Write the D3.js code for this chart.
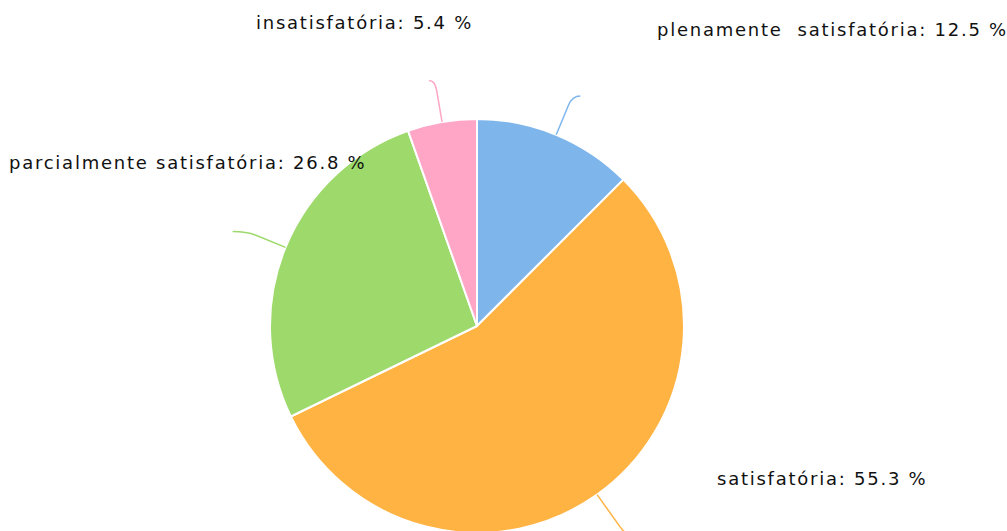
<!DOCTYPE html>
<html><head><meta charset="utf-8">
<script src="https://cdn.jsdelivr.net/npm/d3@7"></script>
<style>html,body{margin:0;padding:0;background:#fff;}svg{display:block;}
text{font-family:"DejaVu Sans",sans-serif;font-size:18px;letter-spacing:1.75px;fill:#111;white-space:pre;}</style>
</head><body>
<svg id="chart" width="1007" height="531"></svg>
<script>
const categories = ["plenamente  satisfatória", "satisfatória", "parcialmente satisfatória", "insatisfatória"];
const values = [12.5, 55.3, 26.8, 5.4];
const colors = ["#7eb6ec", "#ffb343", "#9dd96b", "#ffa6c7"];

const W = 1007, H = 531, cx = 477, cy = 326, R = 207;
const svg = d3.select("#chart");
const g = svg.append("g").attr("transform", `translate(${cx},${cy})`);

const data = categories.map((c, i) => ({name: c, value: values[i], color: colors[i]}));
const pie = d3.pie().value(d => d.value).sort(null);
const arcs = pie(data);
const arc = d3.arc().innerRadius(0).outerRadius(R);

g.selectAll("path.slice").data(arcs).join("path")
  .attr("class", "slice")
  .attr("d", arc)
  .attr("fill", d => d.data.color)
  .attr("stroke", "#fff").attr("stroke-width", 2).attr("stroke-linejoin", "round");

// leader lines
const tail = [8, 8, 14, 6];
const ext = [42, 50, 42, 42];
g.selectAll("path.leader").data(arcs).join("path")
  .attr("class", "leader")
  .attr("fill", "none")
  .attr("stroke", d => d.data.color)
  .attr("stroke-width", 1.5)
  .attr("d", (d, i) => {
    const a = (d.startAngle + d.endAngle) / 2;
    const p = r => [r * Math.sin(a), -r * Math.cos(a)];
    const p1 = p(R), p2 = p(R + ext[i]);
    const dir = Math.sin(a) >= 0 ? 1 : -1;
    const p3 = [p2[0] + dir * tail[i], p2[1]];
    const path = d3.path();
    path.moveTo(p1[0], p1[1]);
    const pm = p(R + ext[i] - 10);
    path.lineTo(pm[0], pm[1]);
    path.quadraticCurveTo(p2[0], p2[1], p3[0], p3[1]);
    return path.toString();
  });

// labels
const labelAnchor = [[657, 36], [717, 485], [9, 169], [256, 29]];
svg.selectAll("text.lbl").data(arcs).join("text")
  .attr("class", "lbl")
  .attr("x", (d, i) => labelAnchor[i][0])
  .attr("y", (d, i) => labelAnchor[i][1])
  .text(d => `${d.data.name}: ${d.data.value} %`);
</script>
</body></html>
